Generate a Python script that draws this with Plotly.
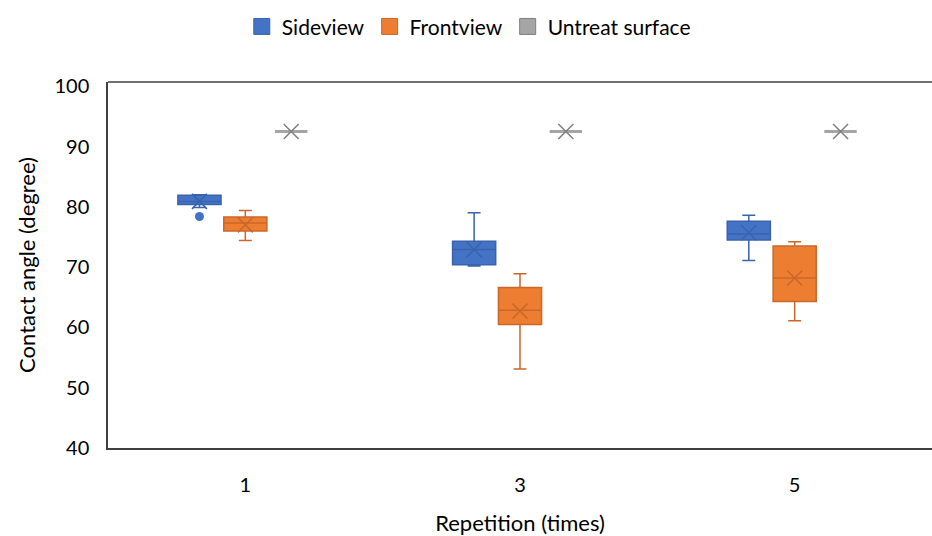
import plotly.graph_objects as go

# ---- data ----
categories = ["1", "3", "5"]

side_lo = [79.9, 70.2, 71.1]
side_q1 = [80.4, 70.4, 74.5]
side_med = [80.9, 72.9, 75.5]
side_q3 = [81.9, 74.3, 77.6]
side_hi = [82.0, 79.0, 78.6]
side_mean = [80.9, 72.9, 75.7]
side_outlier_cat = ["1"]
side_outlier_val = [78.4]

front_lo = [74.4, 53.1, 61.1]
front_q1 = [76.0, 60.5, 64.3]
front_med = [77.3, 62.85, 68.2]
front_q3 = [78.3, 66.6, 73.5]
front_hi = [79.4, 68.9, 74.2]
front_mean = [77.0, 62.7, 68.2]

untreat_val = [92.5, 92.5, 92.5]

y_ticks = [40, 50, 60, 70, 80, 90, 100]

# ---- styling ----
FONT = "Lato"
BLUE, BLUE_D = "#4472C4", "#3A63AE"
ORANGE, ORANGE_D = "#ED7D31", "#C9682A"
GRAY, GRAY_D = "#A5A5A5", "#7F7F7F"
AXIS = "#404040"

idx = {c: i for i, c in enumerate(categories)}
base = [idx[c] for c in categories]
spacing = 0.167

fig = go.Figure()

series = [
    ("Sideview", -1, side_lo, side_q1, side_med, side_q3, side_hi, side_mean, BLUE, BLUE_D, 0.157),
    ("Frontview", 0, front_lo, front_q1, front_med, front_q3, front_hi, front_mean, ORANGE, ORANGE_D, 0.157),
    ("Untreat surface", 1, untreat_val, untreat_val, untreat_val, untreat_val, untreat_val, untreat_val, GRAY, GRAY_D, 0.118),
]

for name, off, lo, q1, med, q3, hi, mean, col, dcol, w in series:
    xs = [b + off * spacing for b in base]
    fig.add_trace(go.Box(
        x=xs, q1=q1, median=med, q3=q3, lowerfence=lo, upperfence=hi,
        width=w, whiskerwidth=0.3, fillcolor=col,
        line=dict(color=dcol if name != "Untreat surface" else GRAY, width=1.5 if name != "Untreat surface" else 3),
        boxpoints=False, showlegend=False, hoverinfo="skip",
    ))
    fig.add_trace(go.Scatter(
        x=xs, y=mean, mode="markers",
        marker=dict(symbol="x-thin", size=15, color=dcol, line=dict(width=1.5, color=dcol)),
        showlegend=False, hoverinfo="skip",
    ))

# outlier
fig.add_trace(go.Scatter(
    x=[idx[c] - spacing for c in side_outlier_cat], y=side_outlier_val, mode="markers",
    marker=dict(symbol="circle", size=9, color=BLUE),
    showlegend=False, hoverinfo="skip",
))

# legend entries
for name, col, dcol in [("Sideview", BLUE, BLUE_D), ("Frontview", ORANGE, ORANGE_D), ("Untreat surface", GRAY, GRAY_D)]:
    fig.add_trace(go.Scatter(
        x=[None], y=[None], mode="markers", name=name,
        marker=dict(symbol="square", size=20, color=col, line=dict(width=1, color=dcol)),
    ))

fig.update_layout(
    width=932, height=536,
    margin=dict(l=108, r=0, t=82, b=88),
    paper_bgcolor="white", plot_bgcolor="white",
    font=dict(family=FONT, size=20, color="#000000"),
    showlegend=True,
    legend=dict(orientation="h", xref="container", yref="container",
                x=0.503, xanchor="center", y=0.95, yanchor="middle",
                font=dict(size=21), itemwidth=30, tracegroupgap=0),
    shapes=[dict(type="line", xref="paper", yref="paper", x0=0, x1=1, y0=1, y1=1,
                 line=dict(color=AXIS, width=1.5))],
)

fig.update_xaxes(
    range=[-0.5, 2.5], tickvals=base, ticktext=categories,
    showline=True, linecolor=AXIS, linewidth=1.5, showgrid=False, zeroline=False,
    ticks="", ticklabelstandoff=18,
    title=dict(text="Repetition (times)", standoff=22, font=dict(size=22)),
)
fig.update_yaxes(
    range=[40, 100.7], tickvals=y_ticks,
    showline=True, linecolor=AXIS, linewidth=1.5, showgrid=False, zeroline=False,
    ticks="", ticklabelstandoff=13,
    title=dict(text="Contact angle (degree)", standoff=13, font=dict(size=22)),
)

fig.write_html("out.html")
